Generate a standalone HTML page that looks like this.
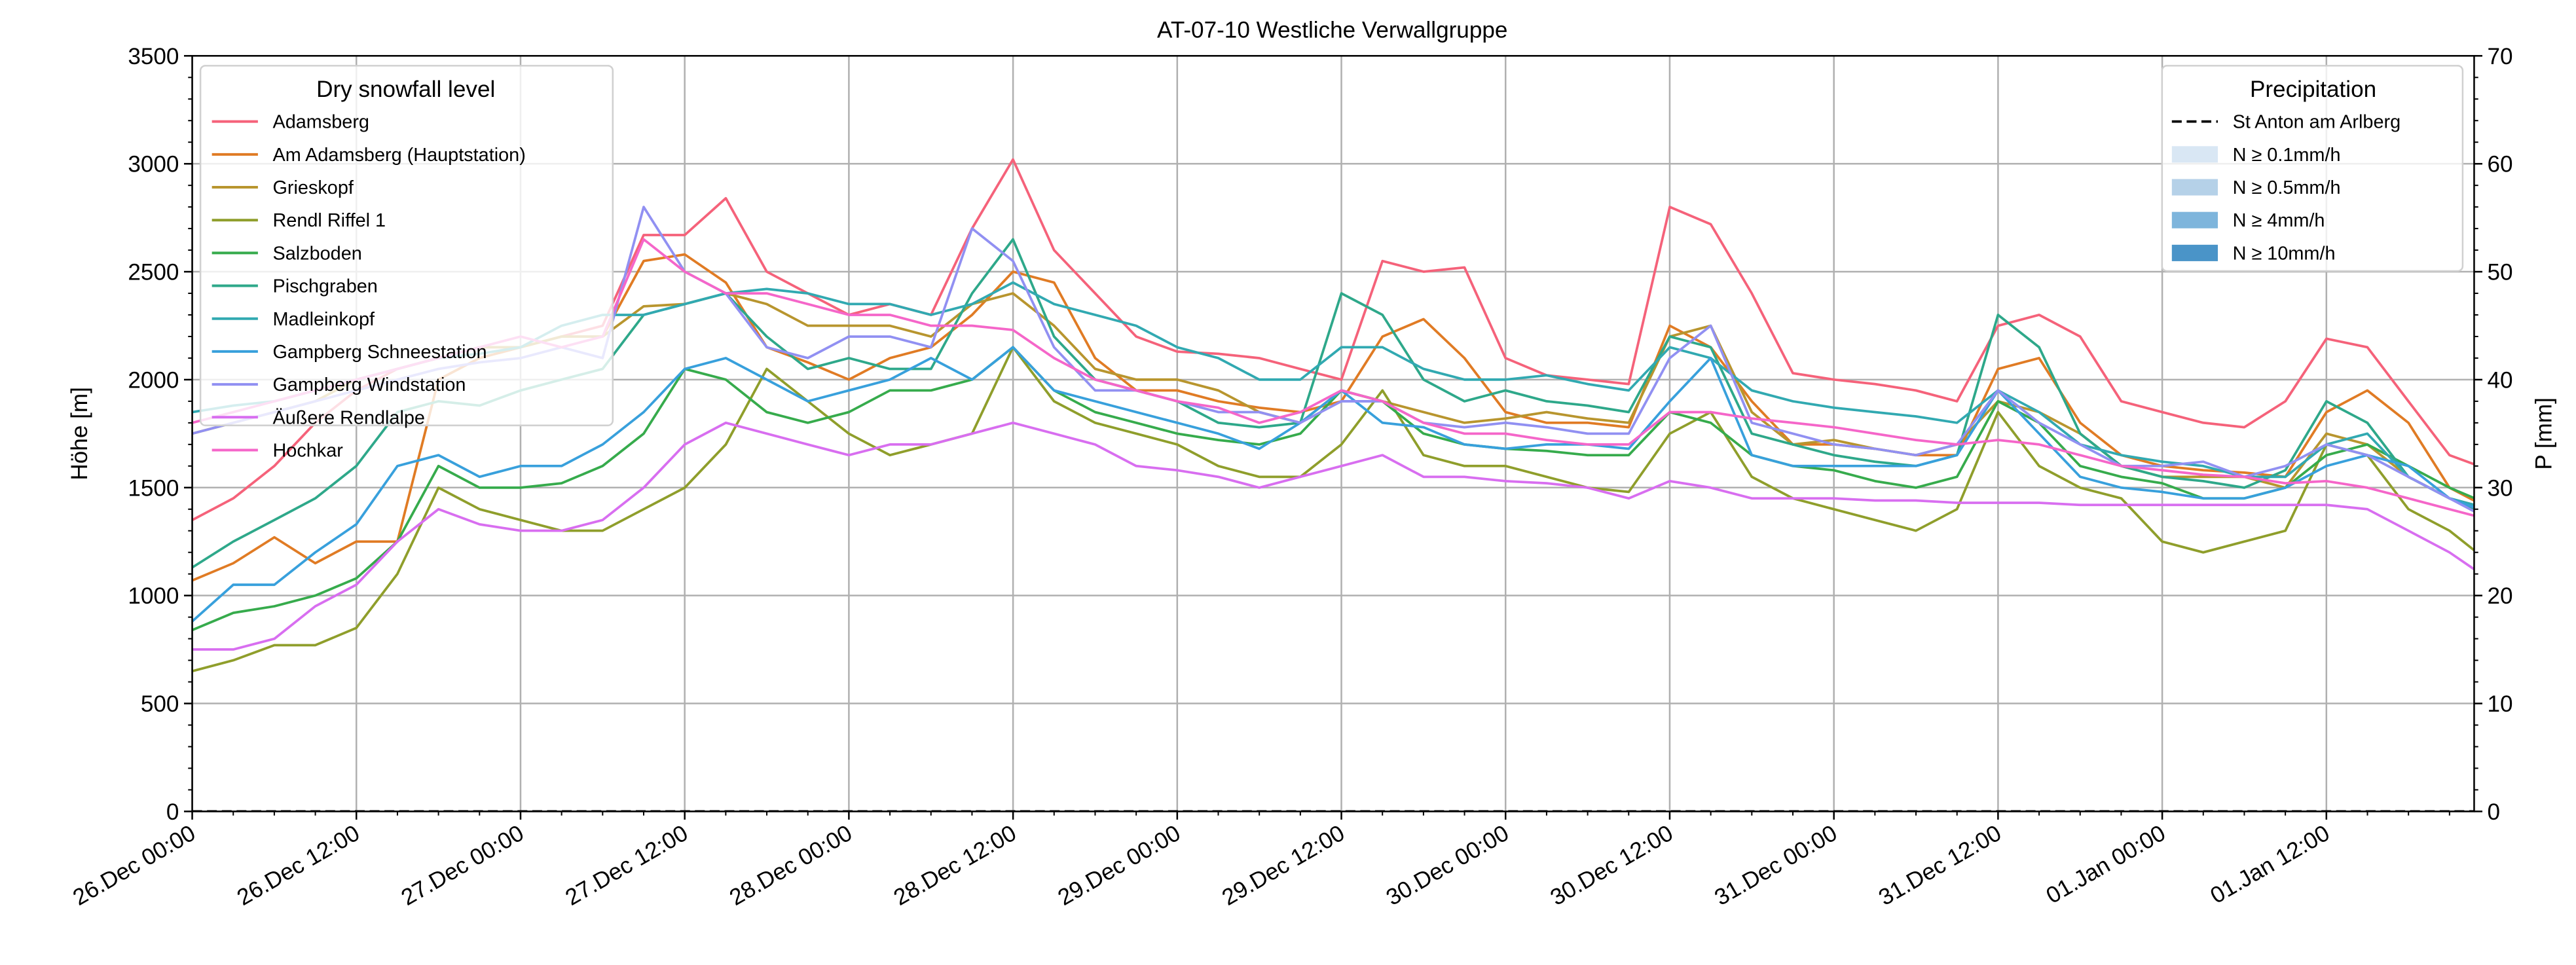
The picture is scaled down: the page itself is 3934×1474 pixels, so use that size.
<!DOCTYPE html>
<html><head><meta charset="utf-8"><style>
html,body{margin:0;padding:0;background:#fff}
svg{display:block}
text{font-family:"Liberation Sans","DejaVu Sans",sans-serif;fill:#000}
</style></head><body>
<svg id="chart" width="3934" height="1474" viewBox="0 0 1568 587.5" preserveAspectRatio="none" xmlns="http://www.w3.org/2000/svg">
<defs><clipPath id="plotclip"><rect x="117" y="34" width="1389" height="460"/></clipPath></defs>
<rect x="0" y="0" width="1568" height="587.5" fill="#fff"/>
<text x="811" y="23" font-size="14" text-anchor="middle">AT-07-10 Westliche Verwallgruppe</text>
<g id="grid"></g>
<g id="series" clip-path="url(#plotclip)"></g>
<rect x="117" y="34" width="1389" height="460" fill="none" stroke="#000" stroke-width="1"/>
<g id="axes"></g>
<text transform="translate(53,264) rotate(-90)" font-size="14" text-anchor="middle">Höhe [m]</text>
<text transform="translate(1553,264) rotate(-90)" font-size="14" text-anchor="middle">P [mm]</text>
<g id="legend"></g>
<g id="plegend"></g>
</svg>
<script>
const hours = [0,3,6,9,12,15,18,21,24,27,30,33,36,39,42,45,48,51,54,57,60,63,66,69,72,75,78,81,84,87,90,93,96,99,102,105,108,111,114,117,120,123,126,129,132,135,138,141,144,147,150,153,156,159,162,165,168];
const seriesNames = ["Adamsberg","Am Adamsberg (Hauptstation)","Grieskopf","Rendl Riffel 1","Salzboden","Pischgraben","Madleinkopf","Gampberg Schneestation","Gampberg Windstation","Äußere Rendlalpe","Hochkar"];
const adamsberg = [1350,1450,1600,1800,1950,2050,2100,2150,2150,2200,2250,2670,2670,2840,2500,2400,2300,2350,2300,2700,3020,2600,2400,2200,2130,2120,2100,2050,2000,2550,2500,2520,2100,2020,2000,1980,2800,2720,2400,2030,2000,1980,1950,1900,2250,2300,2200,1900,1850,1800,1780,1900,2190,2150,1900,1650,1580];
const amAdamsberg = [1070,1150,1270,1150,1250,1250,2000,2100,2150,2200,2200,2550,2580,2450,2150,2080,2000,2100,2150,2300,2500,2450,2100,1950,1950,1900,1870,1850,1900,2200,2280,2100,1850,1800,1800,1780,2250,2150,1900,1700,1700,1680,1650,1650,2050,2100,1800,1650,1600,1580,1570,1550,1850,1950,1800,1500,1400];
const grieskopf = [1750,1800,1850,1900,2000,2050,2100,2150,2150,2200,2200,2340,2350,2400,2350,2250,2250,2250,2200,2350,2400,2250,2050,2000,2000,1950,1850,1800,1950,1900,1850,1800,1820,1850,1820,1800,2200,2250,1850,1700,1720,1680,1650,1700,1900,1850,1750,1600,1550,1550,1550,1500,1750,1700,1550,1450,1400];
const rendlRiffel = [650,700,770,770,850,1100,1500,1400,1350,1300,1300,1400,1500,1700,2050,1900,1750,1650,1700,1750,2150,1900,1800,1750,1700,1600,1550,1550,1700,1950,1650,1600,1600,1550,1500,1480,1750,1850,1550,1450,1400,1350,1300,1400,1850,1600,1500,1450,1250,1200,1250,1300,1700,1650,1400,1300,1150];
const salzboden = [840,920,950,1000,1080,1250,1600,1500,1500,1520,1600,1750,2050,2000,1850,1800,1850,1950,1950,2000,2150,1950,1850,1800,1750,1720,1700,1750,1950,1900,1750,1700,1680,1670,1650,1650,1850,1800,1650,1600,1580,1530,1500,1550,1900,1800,1600,1550,1520,1450,1450,1500,1650,1700,1600,1500,1420];
const pischgraben = [1130,1250,1350,1450,1600,1850,1900,1880,1950,2000,2050,2300,2350,2400,2200,2050,2100,2050,2050,2400,2650,2200,2000,1950,1900,1800,1780,1800,2400,2300,2000,1900,1950,1900,1880,1850,2200,2150,1750,1700,1650,1620,1600,1650,2300,2150,1750,1600,1550,1530,1500,1580,1900,1800,1550,1450,1370];
const madleinkopf = [1850,1880,1900,1950,2000,2050,2100,2120,2150,2250,2300,2300,2350,2400,2420,2400,2350,2350,2300,2350,2450,2350,2300,2250,2150,2100,2000,2000,2150,2150,2050,2000,2000,2020,1980,1950,2150,2100,1950,1900,1870,1850,1830,1800,1950,1850,1700,1650,1620,1600,1550,1550,1700,1750,1550,1450,1400];
const schneestation = [880,1050,1050,1200,1330,1600,1650,1550,1600,1600,1700,1850,2050,2100,2000,1900,1950,2000,2100,2000,2150,1950,1900,1850,1800,1750,1680,1800,1950,1800,1780,1700,1680,1700,1700,1680,1900,2100,1650,1600,1600,1600,1600,1650,1950,1750,1550,1500,1480,1450,1450,1500,1600,1650,1600,1450,1380];
const windstation = [1750,1800,1850,1900,1950,2000,2050,2080,2100,2150,2100,2800,2500,2400,2150,2100,2200,2200,2150,2700,2550,2150,1950,1950,1900,1850,1850,1800,1900,1900,1800,1780,1800,1780,1750,1750,2100,2250,1800,1750,1700,1680,1650,1700,1950,1800,1700,1600,1600,1620,1550,1600,1700,1650,1550,1450,1350];
const rendlalpe = [750,750,800,950,1050,1250,1400,1330,1300,1300,1350,1500,1700,1800,1750,1700,1650,1700,1700,1750,1800,1750,1700,1600,1580,1550,1500,1550,1600,1650,1550,1550,1530,1520,1500,1450,1530,1500,1450,1450,1450,1440,1440,1430,1430,1430,1420,1420,1420,1420,1420,1420,1420,1400,1300,1200,1070];
const hochkar = [1800,1850,1900,1950,2000,2050,2100,2150,2200,2150,2200,2650,2500,2400,2400,2350,2300,2300,2250,2250,2230,2100,2000,1950,1900,1870,1800,1850,1950,1900,1800,1750,1750,1720,1700,1700,1850,1850,1820,1800,1780,1750,1720,1700,1720,1700,1650,1600,1580,1560,1550,1520,1530,1500,1450,1400,1350];
const precipStAnton = [0,0];
const yTicks = [0,500,1000,1500,2000,2500,3000,3500];
const y2Ticks = [0,10,20,30,40,50,60,70];
const xTickLabels = ["26.Dec 00:00","26.Dec 12:00","27.Dec 00:00","27.Dec 12:00","28.Dec 00:00","28.Dec 12:00","29.Dec 00:00","29.Dec 12:00","30.Dec 00:00","30.Dec 12:00","31.Dec 00:00","31.Dec 12:00","01.Jan 00:00","01.Jan 12:00"];
const precipLegend = ["N ≥ 0.1mm/h","N ≥ 0.5mm/h","N ≥ 4mm/h","N ≥ 10mm/h"];

const allSeries=[adamsberg,amAdamsberg,grieskopf,rendlRiffel,salzboden,pischgraben,madleinkopf,schneestation,windstation,rendlalpe,hochkar];
const colors=["#f5627a","#e07b24","#b8952e","#8f9e2b","#36ab4c","#2ea88a","#31a9b1","#38a0dc","#9190f2","#d86ef0","#f566c9"];
const precipColors=["#d9e7f4","#b5d1e8","#7eb5dc","#4a94c8"];
const NS="http://www.w3.org/2000/svg";
const X0=117,X1=1506,Y0=494,Y1=34,HMAX=166.8;
const xs=h=>X0+(h/HMAX)*(X1-X0);
const ys=v=>Y0-(v/3500)*(Y0-Y1);
const y2s=v=>Y0-(v/70)*(Y0-Y1);
function mk(tag,attrs,parent){const e=document.createElementNS(NS,tag);for(const k in attrs)e.setAttribute(k,attrs[k]);parent.appendChild(e);return e;}
const grid=document.getElementById('grid'),axes=document.getElementById('axes'),sg=document.getElementById('series');
yTicks.forEach(v=>{
  const y=ys(v);
  const g=mk('line',{x1:X0,x2:X1,y1:y,y2:y,stroke:'#b0b0b0','stroke-width':1},grid);
  
  
  mk('line',{x1:X0-5,x2:X0,y1:y,y2:y,stroke:'#000'},axes);
  const t=mk('text',{x:X0-8,y:y+5,'font-size':14,'text-anchor':'end'},axes);t.textContent=v;
  
  
});
for(let v=0;v<=3500;v+=100){const y=ys(v);mk('line',{x1:X0-2.5,x2:X0,y1:y,y2:y,stroke:'#000','stroke-width':0.8},axes);}
y2Ticks.forEach(v=>{
  const y=y2s(v);
  mk('line',{x1:X1,x2:X1+5,y1:y,y2:y,stroke:'#000'},axes);
  const t=mk('text',{x:X1+8,y:y+5,'font-size':14},axes);t.textContent=v;
  
  
});
for(let v=0;v<=70;v+=2){const y=y2s(v);mk('line',{x1:X1,x2:X1+2.5,y1:y,y2:y,stroke:'#000','stroke-width':0.8},axes);}
xTickLabels.forEach((lab,i)=>{
  const x=xs(i*12);
  const g=mk('line',{x1:x,x2:x,y1:Y0,y2:Y1,stroke:'#b0b0b0','stroke-width':1},grid);
  
  
  mk('line',{x1:x,x2:x,y1:Y0,y2:Y0+5,stroke:'#000'},axes);
  const t=mk('text',{'font-size':14,'text-anchor':'end',transform:`translate(${x+3},${Y0+16}) rotate(-30)`},axes);t.textContent=lab;
  
  
});
for(let h=0;h<=HMAX;h+=3){const x=xs(h);mk('line',{x1:x,x2:x,y1:Y0,y2:Y0+2.5,stroke:'#000','stroke-width':0.8},axes);}
allSeries.forEach((s,i)=>{
  const d=s.map((v,j)=>(j?'L':'M')+xs(hours[j]).toFixed(1)+','+ys(v).toFixed(1)).join('');
  const p=mk('path',{d:d,fill:'none',stroke:colors[i],'stroke-width':1.5,'stroke-linejoin':'round'},sg);
  
  
});
const pl=mk('line',{x1:X0,x2:X1,y1:y2s(precipStAnton[0]),y2:y2s(precipStAnton[1]),stroke:'#000','stroke-width':1.5,'stroke-dasharray':'6,3'},sg);


// legends
const lg=document.getElementById('legend');
mk('rect',{x:122,y:40,width:251,height:219,rx:3,fill:'#fff','fill-opacity':0.8,stroke:'#d0d0d0'},lg);
let lt=mk('text',{x:247,y:59,'font-size':14,'text-anchor':'middle'},lg);lt.textContent='Dry snowfall level';
seriesNames.forEach((n,i)=>{
  const y=74+i*20;
  mk('line',{x1:129,x2:157,y1:y,y2:y,stroke:colors[i],'stroke-width':1.6},lg);
  const t=mk('text',{x:166,y:y+4,'font-size':11.5},lg);t.textContent=n;
  
  
});
const pg=document.getElementById('plegend');
mk('rect',{x:1316,y:40,width:183,height:125,rx:3,fill:'#fff','fill-opacity':0.8,stroke:'#d0d0d0'},pg);
lt=mk('text',{x:1408,y:59,'font-size':14,'text-anchor':'middle'},pg);lt.textContent='Precipitation';
mk('line',{x1:1322,x2:1350,y1:74,y2:74,stroke:'#000','stroke-width':1.5,'stroke-dasharray':'6,3'},pg);
let st=mk('text',{x:1359,y:78,'font-size':11.5},pg);st.textContent='St Anton am Arlberg';


precipLegend.forEach((n,i)=>{
  const y=94+i*20;
  mk('rect',{x:1322,y:y-5,width:28,height:10,fill:precipColors[i]},pg);
  const t=mk('text',{x:1359,y:y+4,'font-size':11.5},pg);t.textContent=n;
  
  
});
</script>
</body></html>
